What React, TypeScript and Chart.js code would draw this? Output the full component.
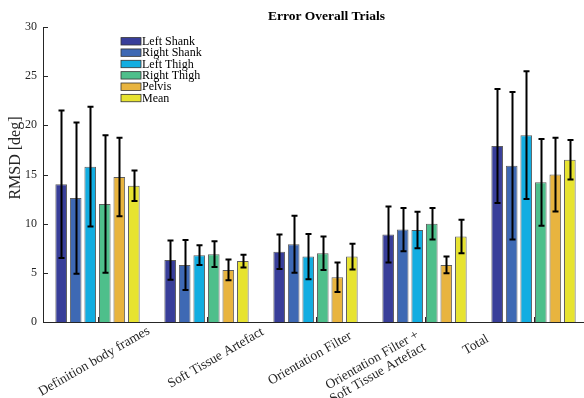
import React, { useEffect, useRef } from "react";
import { Chart, registerables } from "chart.js";

Chart.register(...registerables);

// Experimental conditions (one group of bars per condition)
const categories: string[][] = [
  ["Definition body frames"],
  ["Soft Tissue Artefact"],
  ["Orientation Filter"],
  ["Orientation Filter +", "Soft Tissue Artefact"],
  ["Total"],
];

const seriesNames = ["Left Shank", "Right Shank", "Left Thigh", "Right Thigh", "Pelvis", "Mean"];

// RMSD means [deg] and their standard deviations per segment
const leftShank = [14.0, 6.3, 7.15, 8.9, 17.9];
const leftShankSd = [7.5, 2.0, 1.75, 2.85, 5.8];
const rightShank = [12.6, 5.8, 7.9, 9.4, 15.9];
const rightShankSd = [7.7, 2.55, 2.9, 2.2, 7.5];
const leftThigh = [15.8, 6.8, 6.65, 9.35, 19.0];
const leftThighSd = [6.1, 1.0, 2.3, 1.85, 6.5];
const rightThigh = [12.0, 6.9, 7.0, 10.0, 14.2];
const rightThighSd = [7.0, 1.3, 1.7, 1.6, 4.4];
const pelvis = [14.75, 5.3, 4.55, 5.8, 15.0];
const pelvisSd = [4.0, 1.05, 1.5, 0.85, 3.75];
const meanAll = [13.85, 6.2, 6.65, 8.7, 16.5];
const meanAllSd = [1.55, 0.65, 1.3, 1.7, 2.0];

const yTicks = [0, 5, 10, 15, 20, 25, 30];

const seriesValues = [leftShank, rightShank, leftThigh, rightThigh, pelvis, meanAll];
const seriesSd = [leftShankSd, rightShankSd, leftThighSd, rightThighSd, pelvisSd, meanAllSd];
const seriesColors = ["#383e99", "#3e69b4", "#12ade1", "#4ebf8b", "#e8b43f", "#e7e330"];

const AXIS = "#262626";
const SERIF = "'Liberation Serif', 'Times New Roman', serif";

// where each rotated category label ends, relative to its tick
const labelOffsets = [
  [53, 11],
  [58, 12],
  [37, 16],
  [-5, 15],
  [-44, 19],
];

const decorations = {
  id: "decorations",
  afterDatasetsDraw(chart: any) {
    const { ctx, chartArea, scales } = chart;
    const xs = scales.x;
    const ys = scales.y;
    ctx.save();

    // error bars
    ctx.strokeStyle = "#000";
    ctx.lineWidth = 2;
    chart.data.datasets.forEach((ds: any, i: number) => {
      const meta = chart.getDatasetMeta(i);
      meta.data.forEach((bar: any, j: number) => {
        const v = ds.data[j];
        const e = seriesSd[i][j];
        const x = Math.round(bar.x) + 0.5;
        const yt = ys.getPixelForValue(v + e);
        const yb = ys.getPixelForValue(v - e);
        ctx.beginPath();
        ctx.moveTo(x, yt);
        ctx.lineTo(x, yb);
        ctx.moveTo(x - 3, yt);
        ctx.lineTo(x + 3, yt);
        ctx.moveTo(x - 3, yb);
        ctx.lineTo(x + 3, yb);
        ctx.stroke();
      });
    });

    // inward tick marks
    ctx.strokeStyle = AXIS;
    ctx.lineWidth = 1;
    ctx.beginPath();
    yTicks.forEach((t) => {
      const y = Math.round(ys.getPixelForValue(t)) + 0.5;
      ctx.moveTo(chartArea.left, y);
      ctx.lineTo(chartArea.left + 5, y);
    });
    categories.forEach((_, j) => {
      const x = Math.round(xs.getPixelForValue(j)) + 0.5;
      ctx.moveTo(x, chartArea.bottom);
      ctx.lineTo(x, chartArea.bottom - 5);
    });
    ctx.stroke();

    // rotated category labels
    ctx.fillStyle = AXIS;
    ctx.font = `13.5px ${SERIF}`;
    ctx.textAlign = "right";
    ctx.textBaseline = "alphabetic";
    categories.forEach((lines, j) => {
      const x = xs.getPixelForValue(j) + labelOffsets[j][0];
      const y = chartArea.bottom + labelOffsets[j][1];
      ctx.save();
      ctx.translate(x, y);
      ctx.rotate(-Math.PI / 6);
      lines.forEach((line, k) => ctx.fillText(line, 0, k * 14));
      ctx.restore();
    });

    // title
    ctx.font = `bold 13.5px ${SERIF}`;
    ctx.fillStyle = "#000";
    ctx.textAlign = "center";
    ctx.textBaseline = "middle";
    ctx.fillText("Error Overall Trials", (chartArea.left + chartArea.right) / 2 + 11, 16.5);

    // y-axis title
    ctx.save();
    ctx.translate(16, 158);
    ctx.rotate(-Math.PI / 2);
    ctx.font = `16px ${SERIF}`;
    ctx.fillStyle = AXIS;
    ctx.fillText("RMSD [deg]", 0, 0);
    ctx.restore();

    // legend
    ctx.font = `12px ${SERIF}`;
    ctx.textAlign = "left";
    ctx.textBaseline = "middle";
    seriesNames.forEach((name, i) => {
      const cy = 41.3 + i * 11.35;
      ctx.fillStyle = seriesColors[i];
      ctx.fillRect(121, cy - 3.7, 20, 7.4);
      ctx.strokeStyle = "#333";
      ctx.lineWidth = 0.8;
      ctx.strokeRect(121, cy - 3.7, 20, 7.4);
      ctx.fillStyle = "#000";
      ctx.fillText(name, 142, cy + 0.5);
    });

    ctx.restore();
  },
};

export default function App() {
  const ref = useRef<HTMLCanvasElement | null>(null);

  useEffect(() => {
    if (!ref.current) return;
    const chart = new Chart(ref.current, {
      type: "bar",
      data: {
        labels: categories.map((c) => c.join(" ")),
        datasets: seriesNames.map((name, i) => ({
          label: name,
          data: seriesValues[i],
          backgroundColor: seriesColors[i],
          borderColor: "rgba(40,40,40,0.75)",
          borderWidth: 1,
          categoryPercentage: 0.8,
          barPercentage: 0.8,
        })),
      },
      options: {
        responsive: false,
        animation: false,
        layout: { padding: { top: 27, right: 0, left: 0, bottom: 0 } },
        plugins: {
          legend: { display: false },
          title: { display: false },
          tooltip: { enabled: false },
        },
        scales: {
          x: {
            type: "category",
            offset: true,
            grid: { display: false, drawTicks: false },
            border: { display: true, color: AXIS, width: 1 },
            ticks: { display: false },
            afterFit: (scale: any) => {
              scale.height = 76;
            },
          },
          y: {
            min: 0,
            max: 30,
            grid: { display: false, drawTicks: false },
            border: { display: true, color: AXIS, width: 1 },
            ticks: {
              stepSize: 5,
              padding: 6,
              color: AXIS,
              font: { family: SERIF, size: 12 },
            },
            afterFit: (scale: any) => {
              scale.width = 43;
            },
          },
        },
      },
      plugins: [decorations],
    });
    return () => chart.destroy();
  }, []);

  return (
    <div
      style={{
        position: "absolute",
        left: 0,
        top: 0,
        width: 584,
        height: 398,
        overflow: "hidden",
        background: "#fff",
      }}
    >
      <canvas ref={ref} width={588} height={398} style={{ display: "block" }} />
    </div>
  );
}
